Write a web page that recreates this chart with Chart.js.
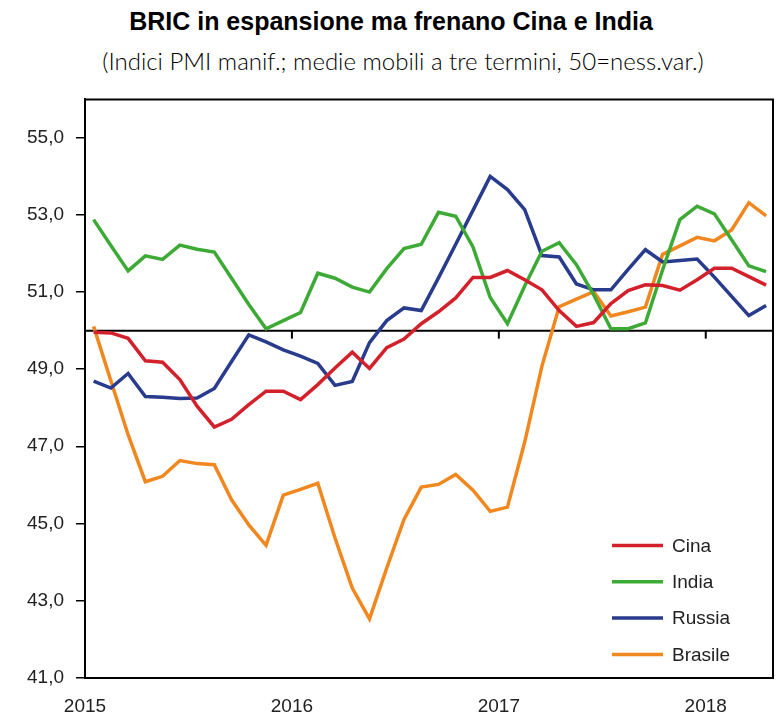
<!DOCTYPE html>
<html><head><meta charset="utf-8">
<script src="https://cdn.jsdelivr.net/npm/chart.js@4.4.1/dist/chart.umd.min.js"></script>
<style>
html,body{margin:0;padding:0;background:#fff;}
#wrap{width:782px;height:715px;position:relative;overflow:hidden;}
#title{position:absolute;left:0;top:7px;width:782px;text-align:center;font:bold 25px 'Liberation Sans Narrow','Liberation Sans',sans-serif;color:#000;}
#subtitle{position:absolute;left:12px;top:46px;width:782px;text-align:center;font:300 24px 'Lato','Liberation Sans',sans-serif;color:#000;}
#cv{position:absolute;left:0;top:76px;}
</style></head><body>
<div id="wrap">
<div id="title">BRIC in espansione ma frenano Cina e India</div>
<div id="subtitle">(Indici PMI manif.; medie mobili a tre termini, 50=ness.var.)</div>
<canvas id="cv" width="782" height="639"></canvas>
</div>
<script>
// Months Jan 2015 .. Apr 2018
const MONTHS = [
 'gen15','feb15','mar15','apr15','mag15','giu15','lug15','ago15','set15','ott15','nov15','dic15',
 'gen16','feb16','mar16','apr16','mag16','giu16','lug16','ago16','set16','ott16','nov16','dic16',
 'gen17','feb17','mar17','apr17','mag17','giu17','lug17','ago17','set17','ott17','nov17','dic17',
 'gen18','feb18','mar18','apr18'];
const YEARS = ['2015','2016','2017','2018'];
const Y_TICKS = [41,43,45,47,49,51,53,55];

const CINA = [49.96,49.94,49.80,49.22,49.18,48.73,48.04,47.50,47.70,48.08,
              48.43,48.43,48.21,48.60,49.03,49.44,49.02,49.56,49.78,50.18,
              50.49,50.85,51.38,51.38,51.56,51.32,51.06,50.52,50.11,50.21,
              50.70,51.04,51.19,51.17,51.05,51.32,51.62,51.62,51.40,51.18];
const INDIA = [52.88,52.21,51.55,51.94,51.85,52.22,52.11,52.04,51.36,50.68,
               50.05,50.26,50.47,51.49,51.36,51.13,51.00,51.61,52.13,52.24,
               53.07,52.97,52.17,50.86,50.18,51.16,52.06,52.28,51.71,50.93,
               50.05,50.05,50.20,51.58,52.88,53.23,53.03,52.36,51.68,51.53];
const RUSSIA = [48.69,48.51,48.89,48.29,48.27,48.24,48.25,48.50,49.20,49.89,
                49.71,49.50,49.34,49.15,48.58,48.68,49.69,50.26,50.59,50.52,
                51.37,52.24,53.12,54.00,53.66,53.14,51.95,51.91,51.21,51.06,
                51.06,51.59,52.10,51.78,51.82,51.86,51.39,50.89,50.39,50.65];
const BRASILE = [50.11,48.70,47.30,46.08,46.22,46.63,46.55,46.52,45.61,44.96,
                 44.43,45.73,45.88,46.04,44.62,43.32,42.52,43.84,45.10,45.94,
                 46.01,46.27,45.86,45.31,45.42,47.11,49.08,50.62,50.82,51.01,
                 50.38,50.49,50.61,51.98,52.20,52.42,52.33,52.61,53.32,52.98];

const SERIES = [
  {label:'Cina', data:CINA, color:'#d3212b'},
  {label:'India', data:INDIA, color:'#3daa36'},
  {label:'Russia', data:RUSSIA, color:'#283b8d'},
  {label:'Brasile', data:BRASILE, color:'#f0871f'}
];
const REF = 50;

Chart.defaults.font.family = "'Liberation Sans', sans-serif";
Chart.defaults.color = '#222';

const frame = {
  id:'frame',
  beforeDatasetsDraw(chart){
    const {ctx, chartArea:a, scales:{x,y}} = chart;
    const y50 = y.getPixelForValue(REF);
    ctx.save();
    ctx.strokeStyle = '#000';
    ctx.lineWidth = 2;
    ctx.beginPath();
    ctx.moveTo(a.left, y50); ctx.lineTo(a.right, y50);
    ctx.stroke();
    YEARS.forEach((yr,k)=>{
      const px = x.getPixelForValue(k*12 - 0.5);
      ctx.beginPath(); ctx.moveTo(px, y50); ctx.lineTo(px, y50+8); ctx.stroke();
    });
    ctx.restore();
  },
  afterDraw(chart){
    const {ctx, chartArea:a} = chart;
    ctx.save();
    ctx.strokeStyle = '#000';
    ctx.lineWidth = 2;
    ctx.beginPath();
    ctx.moveTo(a.left, a.top); ctx.lineTo(a.right, a.top); ctx.lineTo(a.right, a.bottom);
    ctx.stroke();
    // legend
    const x0 = a.right - 161, y0 = a.bottom - 132, step = 36.3;
    ctx.font = "19px 'Liberation Sans', sans-serif";
    ctx.textBaseline = 'middle';
    chart.data.datasets.forEach((ds,i)=>{
      const yy = y0 + i*step;
      ctx.strokeStyle = ds.borderColor; ctx.lineWidth = 3.5;
      ctx.beginPath(); ctx.moveTo(x0, yy); ctx.lineTo(x0+51, yy); ctx.stroke();
      ctx.fillStyle = '#222';
      ctx.fillText(ds.label, x0+60, yy+1);
    });
    ctx.restore();
  }
};

new Chart(document.getElementById('cv'), {
  type:'line',
  data:{
    datasets: SERIES.map(s=>({
      label:s.label,
      data:s.data.map((v,i)=>({x:i, y:v, m:MONTHS[i]})),
      borderColor:s.color, backgroundColor:s.color,
      borderWidth:3.5, pointRadius:0, tension:0, fill:false
    }))
  },
  options:{
    responsive:false, animation:false,
    layout:{padding:{top:9,right:9,left:0,bottom:0}},
    plugins:{legend:{display:false}, tooltip:{enabled:false}},
    scales:{
      x:{
        type:'linear', min:-0.5, max:39.4,
        afterBuildTicks(s){ s.ticks = YEARS.map((yr,k)=>({value:k*12-0.5})); },
        afterFit(s){ s.height = 37.5; },
        ticks:{callback:(v)=>YEARS[Math.round((v+0.5)/12)], font:{size:19}, color:'#222', padding:10, maxRotation:0, autoSkip:false},
        grid:{display:false},
        border:{display:true, color:'#000', width:2}
      },
      y:{
        type:'linear', min:41, max:56,
        afterBuildTicks(s){ s.ticks = Y_TICKS.map(v=>({value:v})); },
        afterFit(s){ s.width = 85; },
        ticks:{callback:(v)=>v.toFixed(1).replace('.',','), font:{size:19}, color:'#222', padding:12},
        grid:{drawOnChartArea:false, drawTicks:true, tickLength:9, color:'#000', lineWidth:1.5},
        border:{display:true, color:'#000', width:2}
      }
    }
  },
  plugins:[frame]
});
</script>
</body></html>
